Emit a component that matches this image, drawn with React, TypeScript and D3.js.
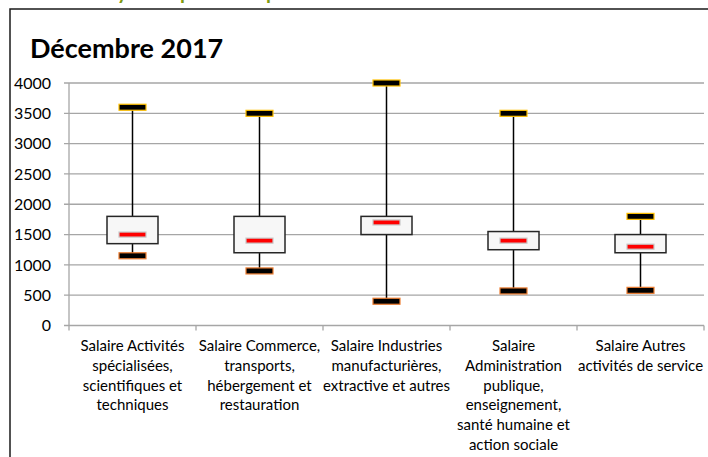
import * as d3 from "d3";

// Box plot data (Décembre 2017)
const categories = [
  "Salaire Activités spécialisées, scientifiques et techniques",
  "Salaire Commerce, transports, hébergement et restauration",
  "Salaire Industries manufacturières, extractive et autres",
  "Salaire Administration publique, enseignement, santé humaine et action sociale",
  "Salaire Autres activités de service",
];
const categoryLines = [
  ["Salaire Activités", "spécialisées,", "scientifiques et", "techniques"],
  ["Salaire Commerce,", "transports,", "hébergement et", "restauration"],
  ["Salaire Industries", "manufacturières,", "extractive et autres"],
  ["Salaire", "Administration", "publique,", "enseignement,", "santé humaine et", "action sociale"],
  ["Salaire Autres", "activités de service"],
];
const maxValues = [3600, 3500, 4000, 3500, 1800];
const q3Values = [1800, 1800, 1800, 1550, 1500];
const medianValues = [1500, 1400, 1700, 1400, 1300];
const q1Values = [1350, 1200, 1500, 1250, 1200];
const minValues = [1150, 900, 400, 570, 580];
const yTicks = [0, 500, 1000, 1500, 2000, 2500, 3000, 3500, 4000];

const W = 708;
const H = 457;
const font = "Lato, 'Open Sans', sans-serif";

export default function App() {
  const margin = { left: 69, right: 4, top: 83, bottom: 131.5 };
  const x = d3
    .scaleBand<string>()
    .domain(categories)
    .range([margin.left, W - margin.right])
    .padding(0);
  const y = d3
    .scaleLinear()
    .domain([0, 4000])
    .range([H - margin.bottom, margin.top]);

  const boxW = 51;
  const capW = 27;
  const capH = 6;
  const y0 = y(0);

  return (
    <div style={{ position: "fixed", left: 0, top: 0 }}>
      <svg width={W} height={H} style={{ display: "block", background: "#fff" }}>
        {/* cut-off green heading above the chart frame */}
        <g fill="#7f9a10" fontFamily={font} fontWeight="bold" fontSize={20}>
          <text x={117} y={-1}>y</text>
          <text x={180} y={-1}>p</text>
          <text x={266} y={-1}>p</text>
        </g>

        {/* chart frame */}
        <rect x={10} y={9} width={W} height={H} fill="#fff" stroke="#1a1a1a" strokeWidth={1.5} />

        <text x={30} y={58} fontFamily={font} fontWeight="bold" fontSize={27} fill="#000">
          Décembre 2017
        </text>

        {/* gridlines */}
        {yTicks.map((t) => (
          <line
            key={t}
            x1={margin.left - 5}
            x2={W - margin.right}
            y1={y(t)}
            y2={y(t)}
            stroke="#a6a6a6"
            strokeWidth={1.3}
          />
        ))}
        {/* y axis */}
        <line x1={margin.left} x2={margin.left} y1={y(4000)} y2={y0} stroke="#a6a6a6" strokeWidth={1.3} />
        {yTicks.map((t) => (
          <text
            key={"l" + t}
            x={51}
            y={y(t)}
            dy="0.36em"
            textAnchor="end"
            fontFamily={font}
            fontSize={16}
            fill="#000"
          >
            {t}
          </text>
        ))}

        {/* category ticks */}
        {categories.concat(["end"]).map((c, i) => {
          const xx = i < categories.length ? (x(c) as number) : W - margin.right;
          return <line key={"t" + i} x1={xx} x2={xx} y1={y0} y2={y0 + 5} stroke="#a6a6a6" strokeWidth={1.3} />;
        })}

        {/* category labels */}
        {categories.map((c, i) => {
          const cx = (x(c) as number) + x.bandwidth() / 2;
          return (
            <text key={"c" + i} textAnchor="middle" fontFamily={font} fontSize={15} fill="#000">
              {categoryLines[i].map((ln, j) => (
                <tspan key={j} x={cx} y={351 + j * 19.8}>
                  {ln}
                </tspan>
              ))}
            </text>
          );
        })}

        {/* boxes */}
        {categories.map((c, i) => {
          const cx = (x(c) as number) + x.bandwidth() / 2;
          return (
            <g key={"b" + i}>
              <line x1={cx} x2={cx} y1={y(maxValues[i])} y2={y(minValues[i])} stroke="#000" strokeWidth={1.5} />
              <rect
                x={cx - boxW / 2}
                y={y(q3Values[i])}
                width={boxW}
                height={y(q1Values[i]) - y(q3Values[i])}
                fill="#f7f7f7"
                stroke="#262626"
                strokeWidth={1.5}
              />
              <rect
                x={cx - capW / 2}
                y={y(medianValues[i]) - 2.5}
                width={capW}
                height={5}
                fill="#ff0000"
                stroke="#c8c8c8"
                strokeWidth={1.2}
              />
              <rect
                x={cx - capW / 2}
                y={y(maxValues[i]) - capH / 2}
                width={capW}
                height={capH}
                fill="#000"
                stroke="#ffc000"
                strokeWidth={1.2}
              />
              <rect
                x={cx - capW / 2}
                y={y(minValues[i]) - capH / 2}
                width={capW}
                height={capH}
                fill="#000"
                stroke="#ed7d31"
                strokeWidth={1.2}
              />
            </g>
          );
        })}
      </svg>
    </div>
  );
}
